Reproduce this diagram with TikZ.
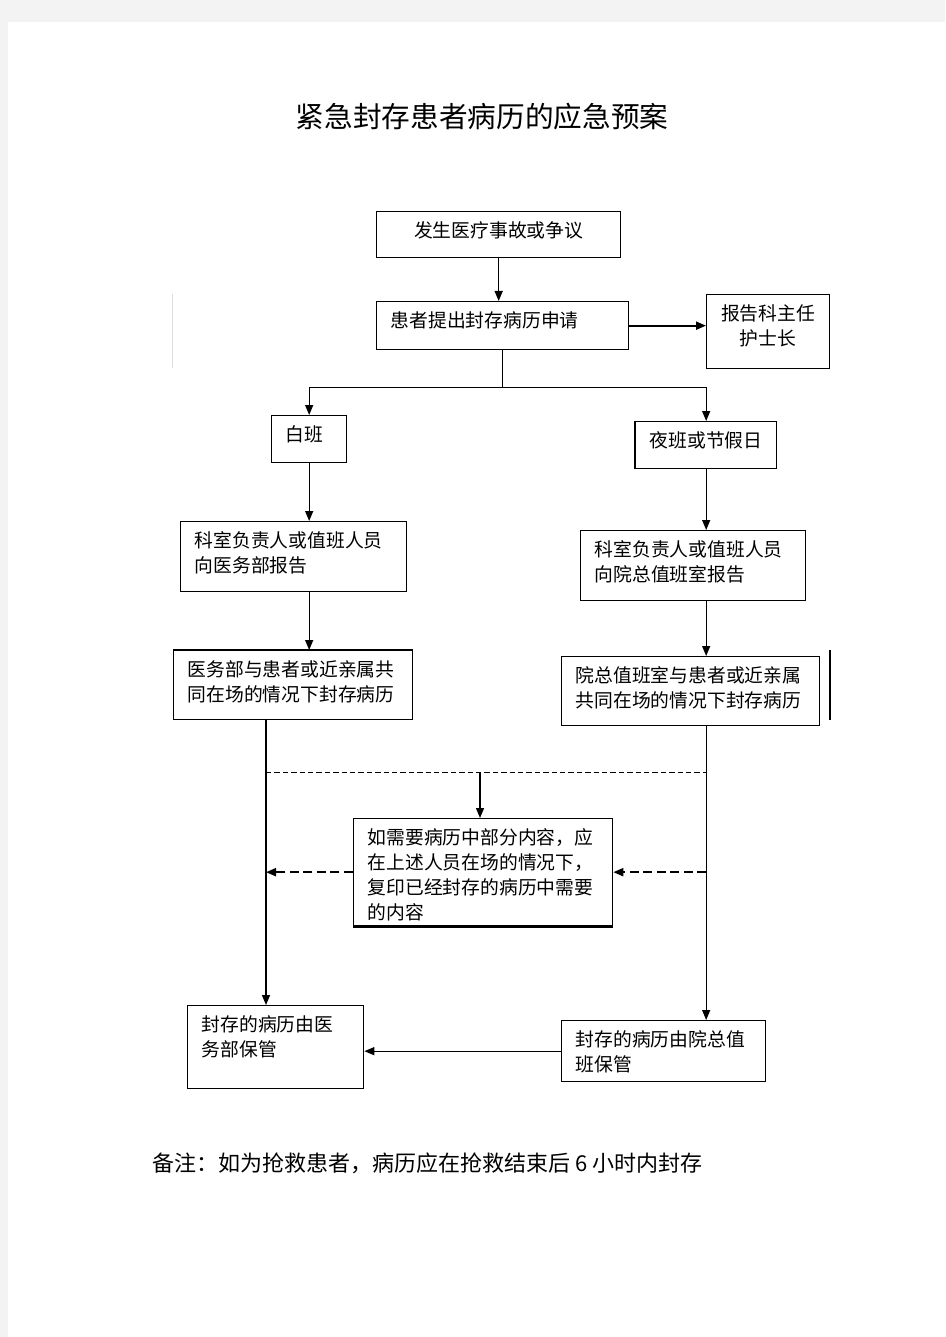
\documentclass[tikz,border=0pt]{standalone}
\usepackage{fontspec}
\newfontfamily\cjk{Noto Sans CJK SC}
\usetikzlibrary{arrows.meta}
\definecolor{pagegray}{HTML}{F3F3F3}
\definecolor{straygray}{HTML}{DDDDDD}
\newcommand{\boxtext}[4][\raggedright\leftskip=10.5pt]{\parbox[c][#3][t]{#2}{#1\vspace*{7.5pt}#4}}

\tikzset{every picture/.style={line width=1pt},
  box/.style={draw, fill=white, anchor=north west, inner sep=0pt, font=\cjk\fontsize{14.1}{18.75}\selectfont},
  arr/.style={-{Triangle[length=7.5pt,width=6pt]}},
  dasharr/.style={arr, line width=1.5pt, dash pattern=on 6.75pt off 3.4pt},
  thindash/.style={line width=0.75pt, dash pattern=on 4pt off 2.3pt}}

\begin{document}
\begin{tikzpicture}[x=0.75pt,y=0.75pt,yscale=-1,xscale=1]
\useasboundingbox (0,0) rectangle (945,1337);
%page
\fill[pagegray] (0,0) rectangle (945,1337);
\fill[white] (8,22) rectangle (945,1337);

% Text Node
\node[font=\cjk\fontsize{21.5}{26}\selectfont] (title) at (482,117) {紧急封存患者病历的应急预案};

%Shape: Rectangle
\node[box] (accident) at (376,211) {\boxtext[\centering]{183pt}{34.5pt}{发生医疗事故或争议}};
%Shape: Rectangle
\node[box] (apply) at (376,301) {\boxtext{189pt}{36pt}{患者提出封存病历申请}};
%Shape: Rectangle
\node[box] (report) at (706,294) {\boxtext[\centering]{92.25pt}{55.5pt}{报告科主任\\护士长}};
%Shape: Rectangle
\node[box] (day) at (271,415) {\boxtext{56.25pt}{35.25pt}{白班}};
%Shape: Rectangle
\node[box] (night) at (635,421) {\boxtext{105.75pt}{35.25pt}{夜班或节假日}};
%Shape: Rectangle
\node[box] (dayrep) at (180,521) {\boxtext{169.5pt}{52.5pt}{科室负责人或值班人员\\向医务部报告}};
%Shape: Rectangle
\node[box] (nightrep) at (580,530) {\boxtext{168.75pt}{52.5pt}{科室负责人或值班人员\\向院总值班室报告}};
%Shape: Rectangle
\node[box] (dayseal) at (173,650) {\boxtext{179.25pt}{51.75pt}{医务部与患者或近亲属共\\同在场的情况下封存病历}};
%Shape: Rectangle
\node[box] (nightseal) at (561,656) {\boxtext{193.5pt}{51.75pt}{院总值班室与患者或近亲属\\共同在场的情况下封存病历}};
%Shape: Rectangle
\node[box] (copy) at (353,818) {\boxtext{194.25pt}{80.25pt}{如需要病历中部分内容，应\\在上述人员在场的情况下，\\复印已经封存的病历中需要\\的内容}};
%Shape: Rectangle
\node[box] (daykeep) at (187,1005) {\boxtext{132pt}{62.25pt}{封存的病历由医\\务部保管}};
%Shape: Rectangle
\node[box] (nightkeep) at (561,1020) {\boxtext{153pt}{45.75pt}{封存的病历由院总值\\班保管}};

%heavier edges
\draw[line width=1.75pt] (night.north west) -- (night.south west);
\draw[line width=1.75pt] (dayseal.north west) -- (dayseal.north east);
\draw[line width=1.75pt] (copy.south west) -- (copy.south east);
%stray strokes
\draw[straygray, line width=0.75pt] (172,294) -- (172,368);
\draw (830,650) -- (830,720);

%Straight Lines
\draw[arr] (accident.south) -- (accident.south |- apply.north);
\draw[arr, line width=1.5pt] (apply.east) -- (apply.east -| report.west);
\draw (apply.south) -- ++(0,37) coordinate (split);
\draw[arr] (split) -| (day.north);
\draw[arr] (split) -| (night.north);
\draw[arr] (day.south) -- (day.south |- dayrep.north);
\draw[arr] (day.south |- dayrep.south) -- (day.south |- dayseal.north);
\draw[arr] (night.south) -- (night.south |- nightrep.north);
\draw[arr] (night.south |- nightrep.south) -- (night.south |- nightseal.north);
\draw[arr] (night.south |- nightseal.south) -- (night.south |- nightkeep.north);

\coordinate (dayline) at (266,772);
\coordinate (copyjoin) at (480,772);
\draw[arr] (dayline |- dayseal.south) -- (dayline |- daykeep.north);
\draw[thindash] (dayline) -- (night.south |- dayline);
\draw[arr] (copyjoin) -- (copyjoin |- copy.north);
\draw[dasharr] (copy.west) -- (dayline |- copy.west);
\draw[dasharr] (night.south |- copy.east) -- (copy.east);
\draw[arr] (nightkeep.west) -- (nightkeep.west -| daykeep.east);

% Text Node
\node[anchor=west, inner sep=0pt, font=\cjk\fontsize{16.5}{20}\selectfont] (note) at (152,1163) {备注：如为抢救患者，病历应在抢救结束后 6 小时内封存};

\end{tikzpicture}
\end{document}
